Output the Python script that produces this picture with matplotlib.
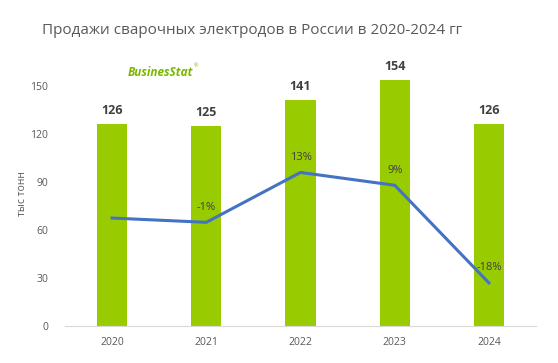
import matplotlib
matplotlib.use("Agg")
import matplotlib.pyplot as plt
import numpy as np

# data
years = ["2020", "2021", "2022", "2023", "2024"]
sales = [126, 125, 141, 154, 126]          # тыс тонн
growth = [0.0, -1.2, 12.8, 9.2, -18.2]     # % к предыдущему году
growth_labels = ["", "-1%", "13%", "9%", "-18%"]

plt.rcParams["font.family"] = ["Open Sans", "DejaVu Sans"]
gray = "#595959"

fig = plt.figure(figsize=(5.58, 3.63), dpi=100)
ax = fig.add_axes([65 / 558, 1 - 326 / 363, 471 / 558, 264 / 363])
x = np.arange(len(years))

ax.bar(x, sales, width=0.32, color="#99CC00", zorder=2)
for xi, v in zip(x, sales):
    ax.annotate(str(v), (xi, v), xytext=(0, 5), textcoords="offset points",
                ha="center", va="bottom", fontsize=9, fontweight="bold", color="#404040")

ax.set_xlim(-0.5, 4.5)
ax.set_ylim(0, 165)
ax.set_yticks([0, 30, 60, 90, 120, 150])
ax.set_xticks(x)
ax.set_xticklabels(years)
ax.tick_params(axis="both", length=0, labelsize=7.5, labelcolor=gray)
ax.tick_params(axis="x", pad=8)
ax.tick_params(axis="y", pad=12)
for s in ["top", "right", "left"]:
    ax.spines[s].set_visible(False)
ax.spines["bottom"].set_color("#D9D9D9")
ax.set_ylabel("тыс тонн", fontsize=7.5, color=gray, labelpad=2)

# growth line on hidden secondary axis
ax2 = ax.twinx()
ax2.plot(x, growth, color="#4472C4", linewidth=2.2, zorder=3)
ax2.set_ylim(-30.3, 43.8)
ax2.axis("off")
for xi, g, lab in zip(x, growth, growth_labels):
    if lab:
        ax2.annotate(lab, (xi, g), xytext=(0, 7), textcoords="offset points",
                     ha="center", va="bottom", fontsize=8, color="#404040")

fig.text(252 / 558, 1 - 30 / 363, "Продажи сварочных электродов в России в 2020-2024 гг",
         ha="center", va="center", fontsize=11, color=gray)

# logo
fig.text(128 / 558, 1 - 72 / 363, "BusinesStat", ha="left", va="center",
         fontsize=8.5, fontweight="bold", style="italic", color="#7AB800")
fig.text(194 / 558, 1 - 66 / 363, "®", ha="left", va="center", fontsize=4, color="#7AB800")

fig.savefig("out.png", dpi=100)
